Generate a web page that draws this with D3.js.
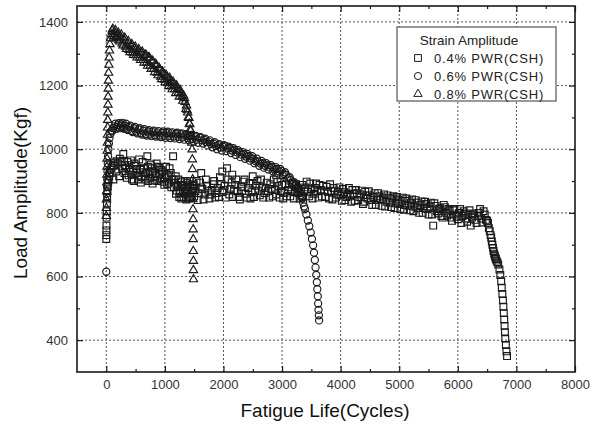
<!DOCTYPE html>
<html><head><meta charset="utf-8">
<script src="https://cdn.jsdelivr.net/npm/d3@7"></script>
<style>
html,body{margin:0;padding:0;background:#fff;}
svg{display:block;font-family:"Liberation Sans",Arial,sans-serif;}
</style></head>
<body><svg id="c" width="592" height="425"></svg>
<script>
// ---- data (cycles, load amplitude in kgf) ----
const seriesNames = ["0.4% PWR(CSH)", "0.6% PWR(CSH)", "0.8% PWR(CSH)"];
const legendTitle = "Strain Amplitude";
const xTicks = [0,1000,2000,3000,4000,5000,6000,7000,8000];
const yTicks = [400,600,800,1000,1200,1400];
const xTitle = "Fatigue Life(Cycles)";
const yTitle = "Load Amplitude(Kgf)";

const pwr04 = [[0,718],[1,730],[2,745],[3,760],[5,785],[7,805],[10,830],[14,850],[19,868],[25,882],[32,895],[40,905],[50,915],[62,925],[75,935],[90,942],[110,950],[130,948],[150,958],[175,962],[200,955],[230,970],[260,960],[290,985],[320,950],
[340,942],[380,918],[420,965],[460,930],[500,948],[540,905],[580,935],[620,960],[660,915],[700,978],[740,928],[780,940],[820,902],[860,955],[900,922],[940,935],[980,898],[1020,945],[1060,915],[1100,925],[1140,978],[1170,895],[1200,870],[1230,905],[1260,862],[1290,888],[1320,850],[1350,875],[1380,895],[1410,845],[1440,868],[1470,885],[1500,852],[1540,900],[1580,862],[1620,880],[1660,842],[1700,905],[1740,870],[1780,858],[1820,890],[1860,848],[1900,878],[1940,912],[1980,865],[2020,885],[2060,940],[2100,858],[2140,895],[2180,870],[2220,905],[2260,850],[2300,882],[2340,898],[2380,860],[2420,878],[2460,845],[2500,892],[2540,868],[2580,900],[2620,855],[2660,880],[2700,862],[2740,895],[2780,848],[2820,875],[2860,905],[2900,858],[2940,884],[2980,868],[3020,845],[3060,890],[3100,872],[3140,852],[3180,895],[3220,865],[3260,880],[3300,845],[3340,888],[3380,868],[3420,898],[3460,852],[3500,875],[3540,860],[3580,892],[3620,848],[3660,872],[3700,885],[3740,850],[3780,866],[3820,890],[3860,842],[3900,870],[3940,858],[3980,880],[4020,838],[4060,865],[4100,850],[4140,878],[4180,835],[4220,860],[4260,872],[4300,840],[4340,858],[4380,828],[4420,866],[4460,845],[4500,855],[4540,825],[4580,862],[4620,840],[4660,852],[4700,822],[4740,858],[4780,835],[4820,848],[4860,818],[4900,852],[4940,830],[4980,842],[5020,812],[5060,848],[5100,825],[5140,838],[5180,808],[5220,842],[5260,820],[5300,832],[5340,800],[5380,836],[5420,815],[5460,828],[5500,795],[5540,832],[5580,760],[5620,822],[5660,798],[5700,815],[5740,785],[5780,818],[5820,792],[5860,808],[5900,775],[5940,812],[5980,788],[6020,800],[6060,768],[6100,805],[6140,782],[6180,795],[6220,760],[6260,798],[6300,778],[6340,790],[6380,812],[6420,770],[6460,795],[6500,775],[6530,752],[6560,730],[6580,710],[6600,690],[6620,672],[6640,660],[6660,650],[6690,638],[6710,622],[6725,605],[6740,585],[6750,565],[6760,545],[6770,525],[6778,505],[6785,485],[6792,465],[6798,445],[6804,425],[6810,405],[6820,385],[6830,365],[6840,350],
[360,960],[400,935],[440,905],[480,955],[520,925],[560,968],[600,912],[640,942],[680,925],[720,900],[760,952],[800,930],[840,915],[880,945],[920,905],[960,930],[1000,912],[1040,890],[1080,940],[1120,905],[1155,880],[1185,915],[1215,888],[1245,850],[1275,898],[1305,870],[1335,900],[1365,842],[1395,868],[1425,900],[1455,850],[1485,875],[1520,868],[1560,840],[1600,895],[1640,875],[1680,858],[1720,885],[1760,845],[1800,872],[1840,900],[1880,862],[1920,850],[1960,890],[2000,872],[2040,848],[2080,905],[2120,875],[2160,850],[2200,888],[2240,868],[2280,842],[2320,870],[2360,905],[2400,848],[2440,892],[2480,865],[2520,850],[2560,885],[2600,870],[2640,905],[2680,848],[2720,878],[2760,868],[2800,890],[2840,852],[2880,872],[2920,898],[2960,848],[3000,888],[3040,862],[3080,852],[3120,880],[3160,868],[3200,845],[3240,890],[3280,862],[3320,875],[3360,850],[3400,880],[3440,866],[3480,892],[3520,845],[3560,878],[3600,868],[3640,888],[3680,852],[3720,870],[3760,882],[3800,845],[3840,868],[3880,878],[3920,848],[3960,866],[4000,855],[4040,875],[4080,840],[4120,860],[4160,852],[4200,872],[4240,838],[4280,862],[4320,850],[4360,870],[4400,835],[4440,855],[4480,868],[4520,840],[4560,850],[4600,825],[4640,862],[4680,842],[4720,848],[4760,820],[4800,855],[4840,832],[4880,845],[4920,815],[4960,850],[5000,828],[5040,838],[5080,810],[5120,845],[5160,822],[5200,832],[5240,805],[5280,840],[5320,815],[5360,825],[5400,800],[5440,835],[5480,812],[5520,820],[5560,795],[5600,830],[5640,805],[5680,812],[5720,790],[5760,825],[5800,800],[5840,812],[5880,785],[5920,808],[5960,795],[6000,780],[6040,812],[6080,790],[6120,798],[6160,772],[6200,808],[6240,785],[6280,795],[6320,768],[6360,800],[6400,782],[6440,805],[6480,778],[6515,768],[6545,742],[6570,722],[6590,700],[6610,680],[6630,665],[6650,655],[6675,645],
[120,905],[170,930],[220,915],[270,940],[310,925],[350,910],[390,950],[430,920],[470,900],[510,938],[550,918],[590,895],[630,928],[670,905],[710,945],[750,910],[790,892],[830,925],[870,900],[910,940],[950,908],[990,888],[1030,920],[1070,895],[1110,880],[1150,905],[1190,860],[1220,882],[1250,870],[1280,845],[1310,885],[1340,860],[1370,870],[1400,882],[1430,848],[1460,862],[1490,890],[1620,925],[1980,930],[2150,920],[2500,915],[2900,918]];

const pwr06 = [[0,615],[8,860],[12,882],[16,905],[20,930],[25,955],[30,978],[36,1000],[44,1018],[55,1035],[70,1048],[90,1058],[115,1066],[140,1072],[170,1064],[200,1076],[230,1066],[260,1078],[290,1068],[320,1074],[350,1063],[390,1070],[430,1058],[470,1066],[510,1055],[550,1062],[590,1050],[630,1058],[670,1047],[710,1056],[750,1046],[790,1054],[830,1044],[870,1053],[910,1043],[950,1052],[990,1042],[1030,1051],[1070,1041],[1110,1050],[1150,1040],[1190,1049],[1230,1039],[1270,1047],[1310,1037],[1350,1045],[1390,1035],[1430,1043],[1470,1032],[1510,1040],[1550,1030],[1590,1036],[1630,1028],[1670,1030],[1710,1022],[1750,1024],[1790,1016],[1830,1018],[1870,1010],[1910,1013],[1950,1005],[1990,1008],[2030,1010],[2070,1002],[2110,1004],[2150,996],[2190,998],[2230,990],[2270,991],[2310,983],[2350,985],[2390,977],[2430,979],[2470,971],[2510,970],[2550,962],[2590,962],[2630,955],[2670,956],[2710,948],[2750,950],[2790,942],[2830,944],[2870,936],[2910,938],[2950,930],[2990,932],[3030,922],[3070,920],[3110,910],[3150,903],[3190,893],[3230,886],[3270,878],[3300,868],[3330,850],[3360,832],[3390,812],[3415,795],[3440,776],[3465,758],[3490,738],[3510,718],[3530,698],[3545,675],[3560,652],[3572,628],[3584,605],[3594,582],[3602,560],[3610,538],[3616,515],[3622,495],[3628,478],[3632,462],
[105,1058],[155,1080],[185,1070],[215,1082],[245,1072],[275,1083],[305,1064],[335,1080],[370,1060],[410,1074],[450,1054],[490,1070],[530,1050],[570,1066],[610,1046],[650,1063],[690,1043],[730,1060],[770,1041],[810,1058],[850,1040],[890,1057],[930,1038],[970,1056],[1010,1036],[1050,1055],[1090,1035],[1130,1053],[1170,1034],[1210,1052],[1250,1032],[1290,1050],[1330,1030],[1370,1047],[1410,1028],[1450,1045],[1490,1024],[1530,1042],[1570,1020],[1610,1038],[1650,1018],[1690,1033],[1730,1012],[1770,1028],[1810,1006],[1850,1022],[1890,1000],[1930,1016],[1970,996],[2010,1013],[2050,994],[2090,1008],[2130,988],[2170,1003],[2210,982],[2250,997],[2290,975],[2330,991],[2370,970],[2410,985],[2450,964],[2490,978],[2530,956],[2570,970],[2610,948],[2650,963],[2690,942],[2730,956],[2770,936],[2810,950],[2850,930],[2890,944],[2930,924],[2970,938],[3010,918],[3050,928],[3090,905],[3130,912],[3170,890],[3210,896],[3250,874],[3285,876],[3315,855],[3345,845],[3375,820]];

const pwr08 = [[0,790],[2,815],[4,842],[6,868],[8,895],[10,920],[12,945],[14,970],[16,995],[18,1020],[20,1045],[22,1068],[24,1092],[26,1115],[28,1140],[30,1165],[33,1190],[36,1215],[40,1240],[44,1265],[49,1288],[55,1310],[62,1330],[72,1348],[85,1360],[100,1372],[120,1362],[140,1368],[165,1352],[190,1360],[215,1342],[240,1352],[270,1332],[300,1342],[330,1322],[360,1332],[390,1312],[420,1325],[450,1303],[480,1318],[510,1295],[540,1310],[570,1288],[600,1303],[630,1280],[660,1296],[690,1272],[720,1288],[750,1262],[780,1279],[810,1252],[840,1268],[870,1240],[900,1256],[930,1228],[960,1244],[990,1218],[1020,1234],[1050,1208],[1080,1224],[1110,1198],[1140,1212],[1170,1188],[1200,1200],[1230,1178],[1260,1186],[1290,1165],[1320,1168],[1345,1148],[1370,1137],[1390,1115],[1410,1098],[1425,1078],[1440,1058],[1450,1040],[1458,1020],[1464,999],[1468,968],[1471,937],[1474,905],[1476,874],[1478,843],[1480,811],[1482,780],[1483,748],[1484,717],[1485,680],[1486,649],[1487,620],[1488,591],
[110,1378],[130,1355],[155,1374],[180,1348],[205,1366],[230,1338],[255,1360],[285,1326],[315,1350],[345,1315],[375,1340],[405,1305],[435,1330],[465,1296],[495,1322],[525,1288],[555,1314],[585,1280],[615,1306],[645,1272],[675,1297],[705,1262],[735,1288],[765,1252],[795,1276],[825,1242],[855,1264],[885,1232],[915,1250],[945,1220],[975,1238],[1005,1210],[1035,1226],[1065,1198],[1095,1214],[1125,1188],[1155,1202],[1185,1176],[1215,1190],[1245,1165],[1275,1176],[1305,1152],[1335,1160],[1360,1126],[1380,1122],[1400,1100],[1418,1080],[1432,1062],[1445,1038]];

const allSeries = [pwr04, pwr06, pwr08];
const symbols = [d3.symbolSquare, d3.symbolCircle, d3.symbolTriangle];
const symSizes = [46, 40, 30];

// ---- layout ----
const svg = d3.select("#c");
const L = 77, R = 575, T = 6, B = 372;
const x = d3.scaleLinear().domain([-500, 8000]).range([L, R]);
const y = d3.scaleLinear().domain([300, 1450]).range([B, T]);
const ink = "#1a1a1a";

// grid
const g = svg.append("g");
g.selectAll("line.gx").data(xTicks.filter(v => v < 8000)).join("line")
  .attr("x1", d => x(d)).attr("x2", d => x(d)).attr("y1", T).attr("y2", B)
  .attr("stroke", "#555").attr("stroke-width", 1).attr("stroke-dasharray", "2,2");
g.selectAll("line.gy").data(yTicks).join("line")
  .attr("y1", d => y(d)).attr("y2", d => y(d)).attr("x1", L).attr("x2", R)
  .attr("stroke", "#555").attr("stroke-width", 1).attr("stroke-dasharray", "2,2");

// data markers
allSeries.forEach((s, i) => {
  const sym = d3.symbol().type(symbols[i]).size(symSizes[i]);
  svg.append("g").selectAll("path").data(s).join("path")
    .attr("transform", d => `translate(${x(d[0])},${y(d[1])})`)
    .attr("d", sym)
    .attr("fill", "none").attr("stroke", ink).attr("stroke-width", 1.15);
});

// axes
const minorX = d3.range(-500, 8001, 500).filter(v => v % 1000 !== 0 && v > -500);
const minorY = d3.range(300, 1451, 100).filter(v => v % 200 !== 0 && v > 300);
function styleAxis(sel) {
  sel.select(".domain").remove();
  sel.selectAll("line").attr("stroke", ink).attr("stroke-width", 1.2);
  sel.selectAll("text").attr("fill", "#333").style("font-size", "13px")
    .style("font-family", "'Liberation Sans', Arial, sans-serif");
}
svg.append("g").attr("transform", `translate(0,${B})`)
  .call(d3.axisBottom(x).tickValues(xTicks).tickSize(-6).tickPadding(8).tickFormat(d3.format("d"))).call(styleAxis);
svg.append("g").attr("transform", `translate(0,${B})`)
  .call(d3.axisBottom(x).tickValues(minorX).tickSize(-3).tickFormat("")).call(styleAxis);
svg.append("g").attr("transform", `translate(0,${T})`)
  .call(d3.axisTop(x).tickValues(xTicks).tickSize(-6).tickFormat("")).call(styleAxis);
svg.append("g").attr("transform", `translate(0,${T})`)
  .call(d3.axisTop(x).tickValues(minorX).tickSize(-3).tickFormat("")).call(styleAxis);
svg.append("g").attr("transform", `translate(${L},0)`)
  .call(d3.axisLeft(y).tickValues(yTicks).tickSize(-6).tickPadding(9).tickFormat(d3.format("d"))).call(styleAxis);
svg.append("g").attr("transform", `translate(${L},0)`)
  .call(d3.axisLeft(y).tickValues(minorY).tickSize(-3).tickFormat("")).call(styleAxis);
svg.append("g").attr("transform", `translate(${R},0)`)
  .call(d3.axisRight(y).tickValues(yTicks).tickSize(-6).tickFormat("")).call(styleAxis);
svg.append("g").attr("transform", `translate(${R},0)`)
  .call(d3.axisRight(y).tickValues(minorY).tickSize(-3).tickFormat("")).call(styleAxis);

// frame
svg.append("rect").attr("x", L).attr("y", T).attr("width", R - L).attr("height", B - T)
  .attr("fill", "none").attr("stroke", ink).attr("stroke-width", 1.6);

// axis titles
svg.append("text").attr("x", (L + R) / 2 - 1).attr("y", 417).attr("text-anchor", "middle")
  .style("font-size", "19px").attr("fill", "#111").text(xTitle);
svg.append("text").attr("transform", "translate(27,193) rotate(-90)").attr("text-anchor", "middle")
  .style("font-size", "19px").attr("fill", "#111").text(yTitle);

// legend
const lg = svg.append("g");
lg.append("rect").attr("x", 397).attr("y", 27).attr("width", 159).attr("height", 74)
  .attr("fill", "#fff").attr("stroke", "#555").attr("stroke-width", 1.2);
lg.append("text").attr("x", 469).attr("y", 45).attr("text-anchor", "middle")
  .style("font-size", "13.5px").attr("fill", "#222").text(legendTitle);
seriesNames.forEach((n, i) => {
  const yy = 58 + i * 18;
  lg.append("path").attr("transform", `translate(418,${yy})`)
    .attr("d", d3.symbol().type(symbols[i]).size(symSizes[i])())
    .attr("fill", "none").attr("stroke", ink).attr("stroke-width", 1);
  lg.append("text").attr("x", 434).attr("y", yy + 4.5)
    .style("font-size", "13px").style("letter-spacing", "0.8px").attr("fill", "#222").text(n);
});
</script></body></html>
